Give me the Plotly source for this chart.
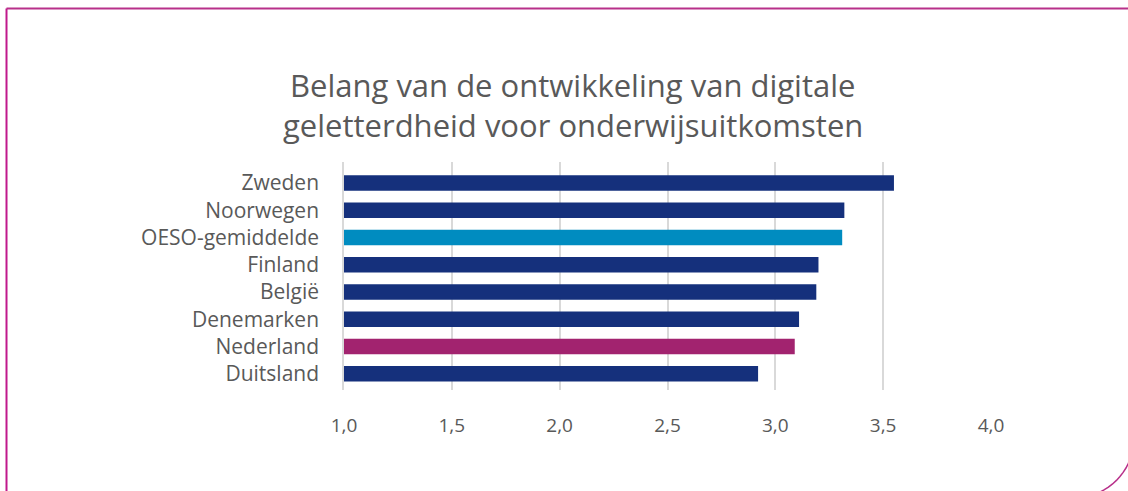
import math
import plotly.graph_objects as go

# Data (bottom to top order for plotly categorical axis)
countries = ["Duitsland", "Nederland", "Denemarken", "België", "Finland",
             "OESO-gemiddelde", "Noorwegen", "Zweden"]
values = [2.92, 3.09, 3.11, 3.19, 3.20, 3.31, 3.32, 3.55]
NAVY = "#15307c"
TEAL = "#008cc0"
MAGENTA = "#a2236f"
bar_colors = [NAVY, MAGENTA, NAVY, NAVY, NAVY, TEAL, NAVY, NAVY]
x_ticks = [1.0, 1.5, 2.0, 2.5, 3.0, 3.5, 4.0]
title_lines = ["Belang van de ontwikkeling van digitale",
               "geletterdheid voor onderwijsuitkomsten"]

W, H = 1128, 491
L, R, T, B = 344, 137, 162, 101
PW, PH = W - L - R, H - T - B


def px(x):
    return (x - L) / PW


def py(y):
    return (H - B - y) / PH


FONT = "Open Sans"
TXT = "#595959"
BORDER = "#b8308a"

fig = go.Figure(go.Bar(
    y=countries, x=values, orientation="h",
    marker=dict(color=bar_colors, line=dict(width=0)),
    width=0.57, base=0, hoverinfo="x+y",
))

shapes = [
    dict(type="line", xref="paper", yref="paper",
         x0=px(6.5), x1=px(1140), y0=py(8.5), y1=py(8.5),
         line=dict(color=BORDER, width=2)),
    dict(type="line", xref="paper", yref="paper",
         x0=px(6.5), x1=px(6.5), y0=py(8.5), y1=py(500),
         line=dict(color="#c0198c", width=2)),
]
# bottom-right rounded corner arc
pts = []
for i in range(0, 91, 5):
    a = math.radians(i)
    pts.append((1074 + 60 * math.cos(a), 438 + 60 * math.sin(a)))
path = "M " + " L ".join(f"{px(x):.5f},{py(y):.5f}" for x, y in pts)
shapes.append(dict(type="path", xref="paper", yref="paper", path=path,
                   line=dict(color=BORDER, width=1.5)))

annotations = []
for txt, yc in zip(title_lines, [85, 125]):
    annotations.append(dict(text=txt, xref="paper", yref="paper",
                            x=px(572.5), y=py(yc), xanchor="center", yanchor="middle",
                            showarrow=False,
                            font=dict(family=FONT, size=31, color=TXT)))

fig.update_layout(
    width=W, height=H,
    margin=dict(l=L, r=R, t=T, b=B, pad=0),
    paper_bgcolor="white", plot_bgcolor="white",
    separators=",.",
    showlegend=False,
    shapes=shapes,
    annotations=annotations,
    font=dict(family=FONT, color=TXT, size=18),
    xaxis=dict(range=[1, 4], tickvals=x_ticks, tickformat=".1f",
               showgrid=True, gridcolor="#d9d9d9", gridwidth=1.5,
               zeroline=False, showline=False, ticks="",
               ticklabelstandoff=22,
               tickfont=dict(family=FONT, size=19, color=TXT)),
    yaxis=dict(type="category", categoryorder="array", categoryarray=countries,
               range=[-0.6, 7.77], showgrid=False, zeroline=False,
               showline=True, linecolor="#d9d9d9", linewidth=1.5,
               ticks="", ticklabelstandoff=19,
               tickfont=dict(family=FONT, size=21, color=TXT)),
)

fig.write_html("out.html",
               config={"displayModeBar": False},
               post_script="document.body.style.margin='0';document.body.style.overflow='hidden';")
